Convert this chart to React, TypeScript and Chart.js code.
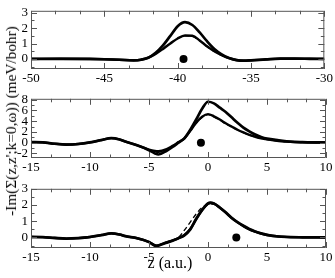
import React, { useEffect, useRef } from "react";
import { Chart, registerables } from "chart.js";

Chart.register(...registerables);

// ---------- data ----------
const p1Z = [-50, -48, -46, -45, -44, -43, -42.5, -42, -41.5, -41, -40.5, -40, -39.5, -39, -38.5, -38, -37.5, -37, -36.5, -36, -35.5, -35, -34, -33, -32, -31, -30];
const p1Thick = [0, 0.01, 0, -0.02, -0.05, -0.09, -0.05, 0.08, 0.4, 0.88, 1.5, 2.12, 2.38, 2.2, 1.72, 1.15, 0.65, 0.3, 0.06, -0.07, -0.11, -0.09, -0.03, 0.02, 0.02, 0.01, 0];
const p1Thin = [0, 0.01, 0, -0.02, -0.05, -0.09, -0.05, 0.08, 0.33, 0.65, 1.0, 1.33, 1.52, 1.5, 1.2, 0.82, 0.5, 0.24, 0.05, -0.07, -0.11, -0.09, -0.03, 0.02, 0.02, 0.01, 0];
const p1Dash = [0, 0.01, 0, -0.02, -0.05, -0.09, -0.05, 0.08, 0.35, 0.68, 1.02, 1.34, 1.5, 1.46, 1.18, 0.8, 0.48, 0.23, 0.05, -0.07, -0.11, -0.09, -0.03, 0.02, 0.02, 0.01, 0];
const p1Dot = [-39.6, 0];

const p2Z = [-15, -14, -13, -12, -11, -10, -9, -8.2, -7.5, -7, -6, -5, -4.5, -4.2, -3.5, -3, -2.5, -2, -1.5, -1, -0.5, 0, 0.5, 1, 1.5, 2, 2.5, 3, 3.5, 4, 4.5, 5, 6, 7, 8, 9, 10];
const p2Thick = [0.1, 0.05, -0.2, -0.35, -0.25, 0.05, 0.5, 0.85, 0.6, 0.2, -0.5, -1.4, -2.0, -2.2, -1.5, -0.8, 0.0, 0.8, 2.4, 4.3, 6.3, 7.6, 7.3, 6.5, 5.7, 4.7, 3.7, 2.8, 2.1, 1.5, 1.05, 0.75, 0.45, 0.2, 0.1, 0.05, 0.03];
const p2Thin = [0.1, 0.05, -0.2, -0.35, -0.25, 0.05, 0.5, 0.85, 0.6, 0.2, -0.5, -1.3, -1.55, -1.6, -1.2, -0.6, 0.1, 0.8, 2.2, 3.7, 4.8, 5.3, 4.9, 4.3, 3.6, 3.0, 2.4, 1.9, 1.45, 1.1, 0.8, 0.6, 0.3, 0.15, 0.08, 0.04, 0.02];
const p2Dash = [0.1, 0.05, -0.2, -0.35, -0.25, 0.05, 0.5, 0.85, 0.6, 0.2, -0.5, -1.35, -1.7, -1.8, -1.3, -0.65, 0.05, 0.8, 2.2, 3.6, 4.7, 5.2, 4.8, 4.2, 3.5, 2.9, 2.35, 1.85, 1.4, 1.05, 0.78, 0.58, 0.3, 0.15, 0.08, 0.04, 0.02];
const p2Dot = [-0.6, 0];

const p3Z = [-15, -14, -13, -12, -11, -10, -9, -8.2, -7.5, -7, -6, -5, -4.4, -4, -3.5, -3, -2.5, -2, -1.5, -1, -0.5, 0, 0.2, 0.5, 1, 1.5, 2, 2.5, 3, 3.5, 4, 4.5, 5, 6, 7, 8, 10];
const p3Thick = [0.03, 0.02, -0.03, -0.07, -0.04, 0.03, 0.15, 0.25, 0.18, 0.08, -0.05, -0.28, -0.53, -0.45, -0.32, -0.2, -0.05, 0.13, 0.5, 1.15, 1.7, 2.1, 2.15, 2.1, 1.85, 1.55, 1.22, 0.95, 0.72, 0.52, 0.37, 0.25, 0.16, 0.06, 0.02, 0.01, 0];
const p3Thin = [0.03, 0.02, -0.03, -0.07, -0.04, 0.03, 0.15, 0.25, 0.18, 0.08, -0.05, -0.28, -0.5, -0.43, -0.3, -0.18, -0.04, 0.15, 0.52, 1.12, 1.68, 2.08, 2.12, 2.08, 1.83, 1.53, 1.2, 0.93, 0.7, 0.5, 0.36, 0.24, 0.15, 0.06, 0.02, 0.01, 0];
const p3Dash = [0.03, 0.02, -0.03, -0.07, -0.04, 0.03, 0.15, 0.25, 0.18, 0.08, -0.05, -0.28, -0.52, -0.44, -0.3, -0.17, 0.0, 0.45, 0.95, 1.45, 1.85, 2.05, 2.08, 2.05, 1.83, 1.53, 1.2, 0.93, 0.7, 0.5, 0.36, 0.24, 0.15, 0.06, 0.02, 0.01, 0];
const p3Dot = [2.4, 0];

const p1XTicks = [-50, -45, -40, -35, -30];
const p23XTicks = [-15, -10, -5, 0, 5, 10];
const p1YTicks = [0, 1, 2, 3];
const p2YTicks = [-2, 0, 2, 4, 6, 8];
const p3YTicks = [0, 1, 2, 3];

const yTitle = "-Im(Σ(z,z';k=0,ω)) (meV/bohr)";
const xTitle = "z (a.u.)";

const FONT = "'Liberation Serif', 'Times New Roman', serif";

type PanelCfg = {
  z: number[];
  thick: number[];
  thin: number[];
  dash: number[];
  dot: number[];
  xMin: number;
  xMax: number;
  yMin: number;
  yMax: number;
  xTicks: number[];
  yTicks: number[];
  yMinorStep: number;
  top: number;
  height: number;
  padTop: number;
  xAxisH: number;
};

const framePlugin = {
  id: "frame",
  afterDatasetsDraw(chart: any, _a: any, opts: any) {
    const { ctx, chartArea } = chart;
    const { left, right, top, bottom } = chartArea;
    const xs = chart.scales.x;
    const ys = chart.scales.y;
    ctx.save();
    ctx.strokeStyle = "#555";
    ctx.lineWidth = 1;
    ctx.beginPath();
    ctx.rect(left + 0.5, top + 0.5, right - left - 1, bottom - top - 1);
    ctx.stroke();
    const MAJ = 6, MIN = 3.5;
    const xMaj: number[] = opts.xTicks;
    const xStep = xMaj[1] - xMaj[0];
    ctx.beginPath();
    for (let v = xs.min; v <= xs.max + 1e-6; v += xStep / 3) {
      const isMaj = xMaj.some((t) => Math.abs(t - v) < 1e-6);
      const L = isMaj ? MAJ : MIN;
      const px = Math.round(xs.getPixelForValue(v)) + 0.5;
      ctx.moveTo(px, bottom);
      ctx.lineTo(px, bottom - L);
      ctx.moveTo(px, top);
      ctx.lineTo(px, top + L);
    }
    const yMaj: number[] = opts.yTicks;
    const yStep = opts.yMinorStep;
    const start = Math.ceil(ys.min / yStep) * yStep;
    for (let v = start; v <= ys.max + 1e-6; v += yStep) {
      const isMaj = yMaj.some((t) => Math.abs(t - v) < 1e-6);
      const L = isMaj ? MAJ : MIN;
      const py = Math.round(ys.getPixelForValue(v)) + 0.5;
      ctx.moveTo(left, py);
      ctx.lineTo(left + L, py);
      ctx.moveTo(right, py);
      ctx.lineTo(right - L, py);
    }
    ctx.stroke();
    ctx.restore();
  },
};

function Panel({ cfg }: { cfg: PanelCfg }) {
  const ref = useRef<HTMLCanvasElement | null>(null);
  useEffect(() => {
    if (!ref.current) return;
    const pts = (arr: number[]) => cfg.z.map((z, i) => ({ x: z, y: arr[i] }));
    const chart = new Chart(ref.current, {
      type: "line",
      data: {
        datasets: [
          {
            data: pts(cfg.thin),
            borderColor: "#000",
            borderWidth: 2.4,
            pointRadius: 0,
            cubicInterpolationMode: "monotone",
          },
          {
            data: pts(cfg.dash),
            borderColor: "#000",
            borderWidth: 1.3,
            borderDash: [5, 3],
            pointRadius: 0,
            cubicInterpolationMode: "monotone",
          },
          {
            data: pts(cfg.thick),
            borderColor: "#000",
            borderWidth: 2.7,
            pointRadius: 0,
            cubicInterpolationMode: "monotone",
          },
          {
            type: "scatter",
            data: [{ x: cfg.dot[0], y: cfg.dot[1] }],
            pointRadius: 4,
            backgroundColor: "#000",
            borderWidth: 0,
            showLine: false,
          } as any,
        ],
      },
      options: {
        responsive: false,
        animation: false,
        devicePixelRatio: 1,
        layout: { padding: { top: cfg.padTop, right: 9, left: 0, bottom: 0 } },
        plugins: {
          legend: { display: false },
          tooltip: { enabled: false },
          frame: { xTicks: cfg.xTicks, yTicks: cfg.yTicks, yMinorStep: cfg.yMinorStep },
        } as any,
        scales: {
          x: {
            type: "linear",
            min: cfg.xMin,
            max: cfg.xMax,
            grid: { display: false, drawTicks: false },
            border: { display: false },
            afterBuildTicks: (s: any) => {
              s.ticks = cfg.xTicks.map((v) => ({ value: v }));
            },
            afterFit: (s: any) => {
              s.height = cfg.xAxisH;
            },
            ticks: {
              autoSkip: false,
              maxRotation: 0,
              padding: 2,
              color: "#000",
              font: { family: FONT, size: 13 },
            },
          },
          y: {
            type: "linear",
            min: cfg.yMin,
            max: cfg.yMax,
            grid: { display: false, drawTicks: false },
            border: { display: false },
            afterBuildTicks: (s: any) => {
              s.ticks = cfg.yTicks.map((v) => ({ value: v }));
            },
            afterFit: (s: any) => {
              s.width = 31;
            },
            ticks: {
              autoSkip: false,
              padding: 3,
              color: "#000",
              font: { family: FONT, size: 13 },
            },
          },
        },
      },
      plugins: [framePlugin],
    } as any);
    return () => chart.destroy();
  }, [cfg]);
  return (
    <canvas
      ref={ref}
      width={335}
      height={cfg.height}
      style={{ position: "absolute", left: 0, top: cfg.top, width: 335, height: cfg.height }}
    />
  );
}

const panels: PanelCfg[] = [
  {
    z: p1Z, thick: p1Thick, thin: p1Thin, dash: p1Dash, dot: p1Dot,
    xMin: -50, xMax: -30, yMin: -0.65, yMax: 3.12,
    xTicks: p1XTicks, yTicks: p1YTicks, yMinorStep: 0.5,
    top: 0, height: 88, padTop: 1, xAxisH: 19,
  },
  {
    z: p2Z, thick: p2Thick, thin: p2Thin, dash: p2Dash, dot: p2Dot,
    xMin: -15, xMax: 10, yMin: -2.85, yMax: 8.15,
    xTicks: p23XTicks, yTicks: p2YTicks, yMinorStep: 1,
    top: 88, height: 90, padTop: 2, xAxisH: 20,
  },
  {
    z: p3Z, thick: p3Thick, thin: p3Thin, dash: p3Dash, dot: p3Dot,
    xMin: -15, xMax: 10, yMin: -0.65, yMax: 3.0,
    xTicks: p23XTicks, yTicks: p3YTicks, yMinorStep: 0.5,
    top: 178, height: 88, padTop: 2, xAxisH: 18,
  },
];

export default function App() {
  return (
    <div style={{ position: "absolute", left: 0, top: 0, width: 335, height: 278, background: "#fff", overflow: "hidden" }}>
      {panels.map((p, i) => (
        <Panel key={i} cfg={p} />
      ))}
      <div
        style={{
          position: "absolute",
          left: 11,
          top: 121,
          transform: "translate(-50%, -50%) rotate(-90deg)",
          whiteSpace: "nowrap",
          fontFamily: FONT,
          fontSize: 15.3,
          lineHeight: "16px",
          color: "#000",
        }}
      >
        {yTitle}
      </div>
      <div
        style={{
          position: "absolute",
          left: 170,
          top: 263,
          transform: "translate(-50%, -50%)",
          whiteSpace: "nowrap",
          fontFamily: FONT,
          fontSize: 16,
          lineHeight: "16px",
          color: "#000",
        }}
      >
        {xTitle}
      </div>
    </div>
  );
}
